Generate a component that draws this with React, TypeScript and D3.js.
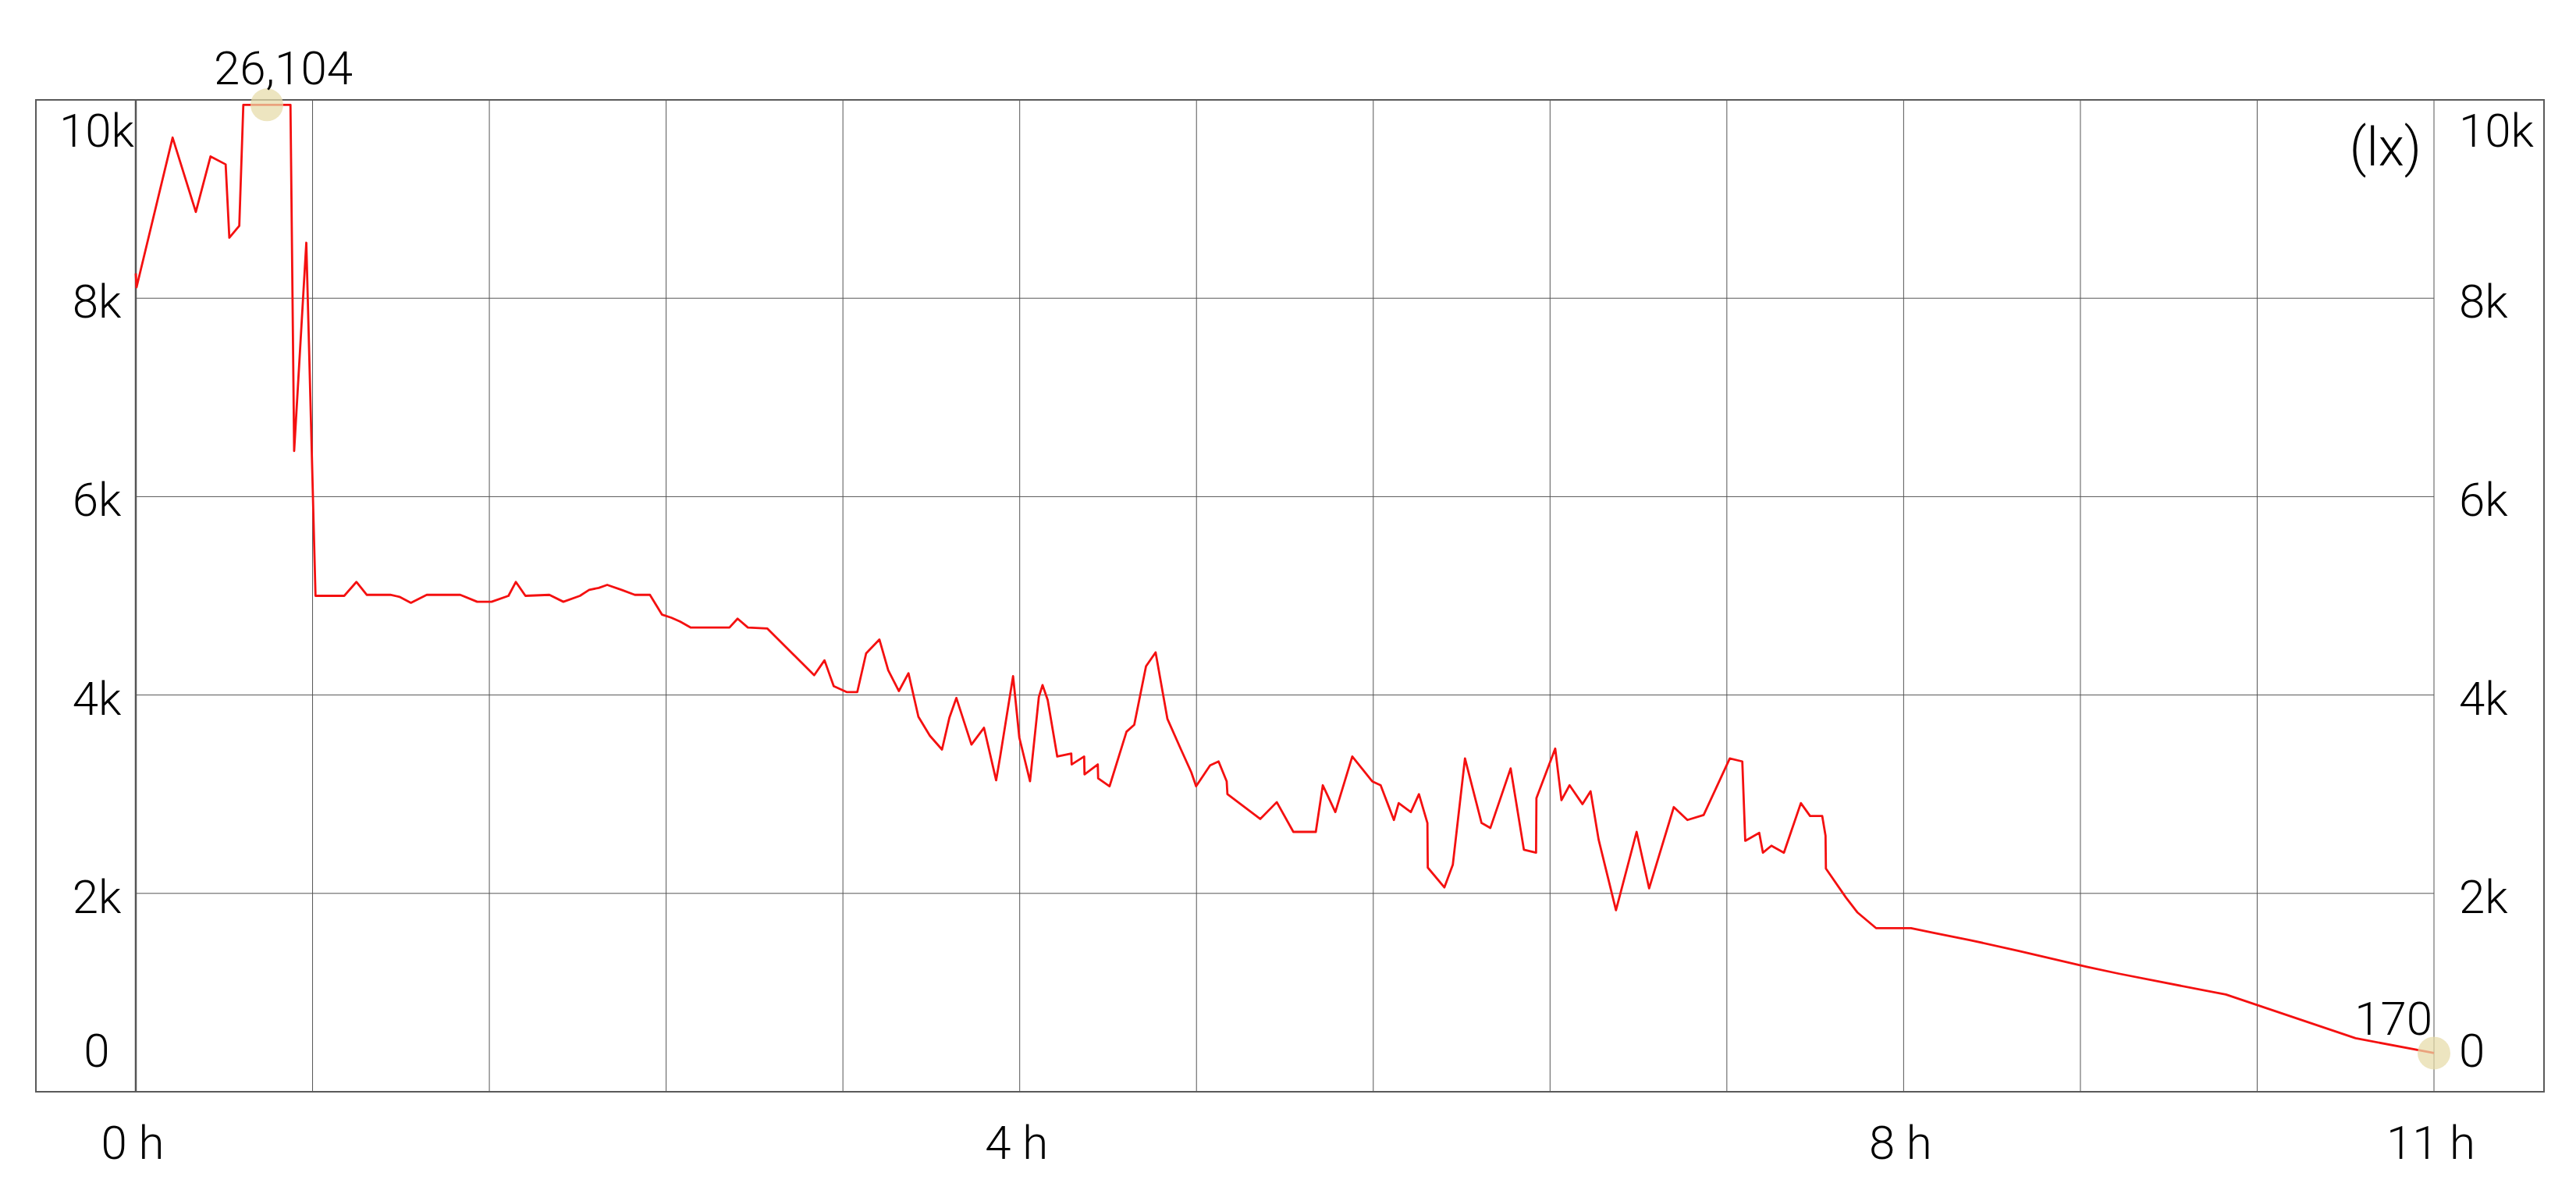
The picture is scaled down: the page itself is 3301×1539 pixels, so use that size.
import React from "react";
import * as d3 from "d3";

const WIDTH = 3301;
const HEIGHT = 1539;

// elapsed time (minutes) and illuminance (lx)
const minutes = [
  0, 0.2, 10.0, 16.3, 20.3, 24.4, 25.4, 28.1, 29.2, 35.6, 42.0, 43.0, 46.3, 48.8, 56.6, 59.9,
  62.7, 69.1, 71.6, 74.7, 79.0, 88.1, 92.7, 96.6, 101.2, 103.2, 105.8, 112.3, 116.1, 120.6,
  123.1, 125.7, 128.0, 131.9, 135.5, 139.6, 142.9, 145.4, 147.8, 150.7, 161.2, 163.4, 166.2,
  171.5, 184.2, 187.0, 189.5, 193.0, 195.9, 198.3, 201.9, 204.3, 207.2, 209.8, 212.5, 215.6,
  218.9, 220.9, 222.8, 226.9, 230.3, 233.6, 234.7, 238.2, 239.9, 242.8, 245.2, 246.2, 247.6,
  250.2, 254.0, 254.1, 257.5, 257.6, 261.2, 261.3, 264.4, 269.0, 271.1, 274.3, 276.9, 280.1,
  283.8, 286.6, 287.9, 291.7, 294.0, 296.2, 296.4, 305.3, 309.8, 314.3, 320.4, 322.3, 325.7,
  330.3, 335.7, 338.0, 341.6, 342.9, 346.2, 348.4, 350.7, 350.8, 355.3, 357.6, 360.9, 365.4,
  367.8, 373.3, 376.9, 380.2, 380.3, 385.4, 387.1, 389.3, 392.8, 395.0, 397.2, 401.9, 407.5,
  410.9, 417.6, 421.3, 425.7, 432.8, 436.2, 437.0, 440.8, 441.8, 444.1, 447.5, 452.1, 454.6,
  457.9, 458.8, 458.9, 464.3, 467.4, 472.5, 482.0, 488.4, 497.9, 511.3, 529.7, 538.5, 567.5,
  602.7, 624,
];

const lux = [
  8250, 8110, 9620, 8870, 9430, 9350, 8610, 8730, 12400, 26104, 15800, 6460, 8560, 5000, 5000, 5140,
  5010, 5010, 4990, 4930, 5010, 5010, 4940, 4940, 5000, 5140, 5000, 5010, 4940, 5000,
  5060, 5080, 5110, 5060, 5010, 5010, 4810, 4780, 4740, 4680, 4680, 4770, 4680,
  4670, 4200, 4350, 4090, 4030, 4030, 4420, 4560, 4250, 4040, 4220, 3780, 3590,
  3450, 3770, 3970, 3500, 3670, 3140, 3380, 4190, 3570, 3130, 3980, 4100, 3950,
  3380, 3410, 3300, 3380, 3200, 3300, 3160, 3080, 3630, 3700, 4290, 4430, 3760,
  3450, 3220, 3080, 3290, 3330, 3130, 3000, 2750, 2920, 2620, 2620, 3090, 2820,
  3380, 3130, 3090, 2740, 2910, 2820, 3000, 2710, 2260, 2060, 2290, 3360, 2710,
  2660, 3260, 2440, 2410, 2960, 3460, 2940, 3090, 2900, 3030, 2540, 1830, 2620,
  2050, 2870, 2740, 2790, 3360, 3330, 2530, 2610, 2410, 2480, 2410, 2910, 2780,
  2780, 2580, 2250, 1960, 1810, 1650, 1650, 1600, 1530, 1420, 1260, 1190, 980,
  540, 390,
];

const Y_TICKS = [0, 2000, 4000, 6000, 8000, 10000];
const GRID_MINUTES = [0, 48, 96, 144, 192, 240, 288, 336, 384, 432, 480, 528, 576, 624];
const X_LABEL_MINUTES = [0, 240, 480, 624];
const X_LABELS = ["0 h", "4 h", "8 h", "11 h"];
const UNIT = "(lx)";
const LOWEST_READING = 170;

const FONT = "Roboto, 'Helvetica Neue', Helvetica, Arial, sans-serif";
const LINE_CAP = 9950; // values above this are pinned to the top edge

const frame = { left: 46, right: 3260, top: 128, bottom: 1399 };
const plot = { left: 174, right: 3119 };

export default function App() {
  const data = minutes.map((m, i) => ({ m, v: lux[i] }));

  const x = d3.scaleLinear().domain([0, 624]).range([plot.left, plot.right]);
  const y = d3.scaleLinear().domain([0, 10000]).range([frame.bottom, frame.top]);
  const fmtTick = d3.format("~s");

  const line = d3
    .line<{ m: number; v: number }>()
    .x((d) => x(d.m))
    .y((d) => y(Math.min(d.v, LINE_CAP)));

  const maxPoint = data.reduce((a, b) => (b.v > a.v ? b : a));
  const lastPoint = data[data.length - 1];

  const labelY = (v: number) =>
    Math.max(frame.top + 60, Math.min(frame.bottom - 32, y(v) + 25));

  return (
    <svg
      width={WIDTH}
      height={HEIGHT}
      style={{ position: "absolute", left: 0, top: 0, background: "#fff" }}
      fontFamily={FONT}
      fontWeight={300}
    >
      {/* horizontal grid */}
      {Y_TICKS.filter((t) => t > 0 && t < 10000).map((t) => (
        <line
          key={"h" + t}
          x1={plot.left}
          x2={plot.right}
          y1={y(t)}
          y2={y(t)}
          stroke="#555"
          strokeWidth={1}
        />
      ))}
      {/* vertical grid */}
      {GRID_MINUTES.map((m) => (
        <line
          key={"v" + m}
          x1={x(m)}
          x2={x(m)}
          y1={frame.top}
          y2={frame.bottom}
          stroke="#555"
          strokeWidth={m === 0 ? 2.5 : 1}
        />
      ))}
      <rect
        x={frame.left}
        y={frame.top}
        width={frame.right - frame.left}
        height={frame.bottom - frame.top}
        fill="none"
        stroke="#5a5a5a"
        strokeWidth={2}
      />

      {/* y labels both sides */}
      {Y_TICKS.map((t) => (
        <g key={"yl" + t} fontSize={60} fill="#000">
          <text x={124} y={labelY(t)} textAnchor="middle">
            {fmtTick(t)}
          </text>
          <text x={3151} y={labelY(t)} textAnchor="start">
            {fmtTick(t)}
          </text>
        </g>
      ))}
      <text x={3103} y={212} fontSize={68} textAnchor="end" fill="#000">
        {UNIT}
      </text>

      {/* x labels */}
      {X_LABEL_MINUTES.map((m, i) => (
        <text key={"xl" + m} x={x(m) - 4} y={1485} fontSize={60} textAnchor="middle" fill="#000">
          {X_LABELS[i]}
        </text>
      ))}

      <path d={line(data) ?? ""} fill="none" stroke="#f41010" strokeWidth={2.8} strokeLinejoin="round" />

      {/* max / min markers */}
      <circle cx={x(maxPoint.m)} cy={y(Math.min(maxPoint.v, LINE_CAP))} r={21} fill="#e6dba8" fillOpacity={0.72} />
      <text x={x(maxPoint.m) + 21} y={108} fontSize={60} textAnchor="middle" fill="#000">
        {d3.format(",")(maxPoint.v)}
      </text>
      <circle cx={x(lastPoint.m)} cy={y(lastPoint.v)} r={21} fill="#e6dba8" fillOpacity={0.72} />
      <text x={x(lastPoint.m) - 2} y={y(lastPoint.v) - 23} fontSize={60} textAnchor="end" fill="#000">
        {LOWEST_READING}
      </text>
    </svg>
  );
}
